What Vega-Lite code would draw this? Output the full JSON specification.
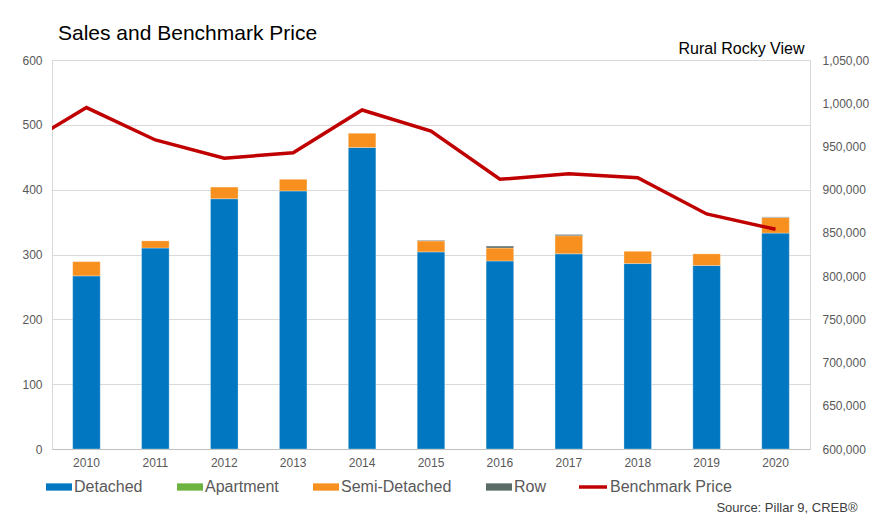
{
  "$schema": "https://vega.github.io/schema/vega-lite/v6.json",
  "width": 758,
  "height": 389,
  "autosize": {"type": "none"},
  "padding": {"left": 52, "top": 60, "right": 59, "bottom": 66},
  "background": "white",
  "config": {
    "font": "Liberation Sans",
    "view": {"stroke": "#D9D9D9"},
    "axis": {"labelFont": "Liberation Sans", "labelColor": "#595959", "labelFontSize": 12, "ticks": false, "titleFont": "Liberation Sans", "titleFontWeight": "normal"},
    "legend": {"labelFont": "Liberation Sans", "labelFontSize": 16, "labelColor": "#595959"}
  },
  "title": {"text": "Sales and Benchmark Price", "anchor": "start", "frame": "group", "fontSize": 21, "fontWeight": "normal", "color": "#000000", "dx": 6, "dy": 20, "offset": 16, "font": "Liberation Sans"},
  "datasets": {
    "sales": [
      {"year": "2010", "type": "Detached", "count": 267},
      {"year": "2010", "type": "Semi-Detached", "count": 22},
      {"year": "2011", "type": "Detached", "count": 310},
      {"year": "2011", "type": "Semi-Detached", "count": 11},
      {"year": "2012", "type": "Detached", "count": 386},
      {"year": "2012", "type": "Semi-Detached", "count": 18},
      {"year": "2013", "type": "Detached", "count": 398},
      {"year": "2013", "type": "Semi-Detached", "count": 18},
      {"year": "2014", "type": "Detached", "count": 465},
      {"year": "2014", "type": "Semi-Detached", "count": 22},
      {"year": "2015", "type": "Detached", "count": 304},
      {"year": "2015", "type": "Semi-Detached", "count": 17},
      {"year": "2015", "type": "Row", "count": 1},
      {"year": "2016", "type": "Detached", "count": 290},
      {"year": "2016", "type": "Semi-Detached", "count": 20},
      {"year": "2016", "type": "Row", "count": 3},
      {"year": "2017", "type": "Detached", "count": 301},
      {"year": "2017", "type": "Semi-Detached", "count": 28},
      {"year": "2017", "type": "Row", "count": 2},
      {"year": "2018", "type": "Detached", "count": 286},
      {"year": "2018", "type": "Semi-Detached", "count": 19},
      {"year": "2019", "type": "Detached", "count": 283},
      {"year": "2019", "type": "Semi-Detached", "count": 18},
      {"year": "2020", "type": "Detached", "count": 333},
      {"year": "2020", "type": "Semi-Detached", "count": 24},
      {"year": "2020", "type": "Row", "count": 1}
    ],
    "price": [
      {"year": 2009, "price": 947000},
      {"year": 2010, "price": 995000},
      {"year": 2011, "price": 957500},
      {"year": 2012, "price": 936300},
      {"year": 2013, "price": 942800},
      {"year": 2014, "price": 992200},
      {"year": 2015, "price": 967900},
      {"year": 2016, "price": 912000},
      {"year": 2017, "price": 918500},
      {"year": 2018, "price": 913900},
      {"year": 2019, "price": 871900},
      {"year": 2020, "price": 854200}
    ]
  },
  "layer": [
    {
      "data": {"name": "sales"},
      "transform": [
        {"calculate": "indexof(['Detached', 'Apartment', 'Semi-Detached', 'Row'], datum.type)", "as": "stackOrder"}
      ],
      "mark": {"type": "bar", "stroke": "#ffffff", "strokeWidth": 0.5, "strokeOpacity": 0.6},
      "encoding": {
        "x": {
          "field": "year", "type": "ordinal",
          "scale": {"paddingInner": 0.6, "paddingOuter": 0.3},
          "axis": {"labelAngle": 0, "labelPadding": 8, "domainColor": "#BFBFBF", "grid": false,
                   "title": "Source: Pillar 9, CREB®", "titleFontSize": 13, "titleColor": "#404040",
                   "titleAnchor": "end", "titleAlign": "right", "titleBaseline": "middle", "titleX": 805, "titleY": 58}
        },
        "y": {
          "aggregate": "sum", "field": "count", "type": "quantitative",
          "scale": {"domain": [0, 600]},
          "axis": {"title": null, "values": [0, 100, 200, 300, 400, 500, 600], "gridColor": "#D9D9D9", "domainColor": "#D9D9D9", "labelPadding": 10}
        },
        "order": {"field": "stackOrder", "type": "quantitative", "sort": "ascending"},
        "color": {
          "field": "type", "type": "nominal",
          "scale": {"domain": ["Detached", "Apartment", "Semi-Detached", "Row"], "range": ["#0077C0", "#6DB33F", "#F7901E", "#5B6B67"]},
          "legend": {"orient": "none", "legendX": -6, "legendY": 414, "direction": "horizontal", "title": null,
                     "symbolType": "M-1,-0.28H1V0.28H-1Z", "symbolSize": 676, "symbolStrokeWidth": 0,
                     "columnPadding": 34, "labelOffset": 2}
        }
      }
    },
    {
      "data": {"name": "price"},
      "mark": {"type": "line", "strokeWidth": 3.5, "clip": true},
      "encoding": {
        "x": {"field": "year", "type": "quantitative", "scale": {"domain": [2009.5, 2020.5], "nice": false, "zero": false}, "axis": null},
        "y": {
          "field": "price", "type": "quantitative",
          "scale": {"domain": [600000, 1050000], "zero": false, "nice": false},
          "axis": {"orient": "right", "format": ",d", "values": [600000, 650000, 700000, 750000, 800000, 850000, 900000, 950000, 1000000, 1050000],
                   "grid": false, "domain": false, "labelPadding": 12,
                   "title": "Rural Rocky View", "titleFontSize": 16, "titleColor": "#000000", "titleAngle": 0,
                   "titleAlign": "right", "titleBaseline": "middle", "titleX": -6, "titleY": -12}
        },
        "stroke": {
          "datum": "Benchmark Price", "type": "nominal",
          "scale": {"range": ["#C00000"]},
          "legend": {"orient": "none", "legendX": 525, "legendY": 411, "title": null,
                     "symbolType": "stroke", "symbolSize": 784, "symbolStrokeWidth": 3.5, "labelOffset": 1}
        }
      }
    }
  ],
  "resolve": {"scale": {"x": "independent", "y": "independent"}}
}
